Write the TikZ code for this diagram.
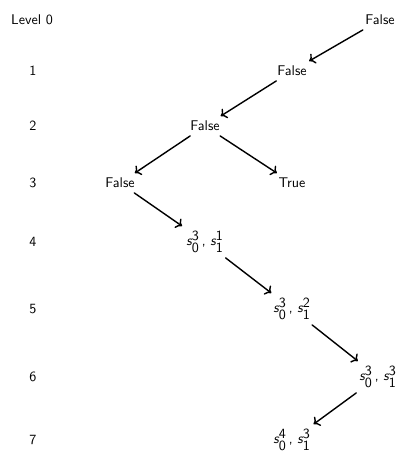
\documentclass[tikz,border=0pt]{standalone}
\usetikzlibrary{arrows.meta}
\renewcommand{\familydefault}{\sfdefault}
\newcommand{\sv}[2]{\ensuremath{\textit{s}_{\textsf{#1}}^{\textsf{#2}}}}
\tikzset{
  lvl/.style={font=\sffamily},
  st/.style={font=\sffamily},
  edge/.style={-{To[length=4pt,width=8pt]},line width=1pt}
}
\begin{document}
\begin{tikzpicture}[line cap=round,line join=round,x=0.025cm,y=-0.025cm]
		\useasboundingbox (0,0) rectangle (400,454);
		%niveaux
		\node[lvl] (l0) at (32,20) {Level 0};
		\node[lvl] (l1) at (33,71) {1};
		\node[lvl] (l2) at (33,126) {2};
		\node[lvl] (l3) at (33,183) {3};
		\node[lvl] (l4) at (33,242) {4};
		\node[lvl] (l5) at (33,309) {5};
		\node[lvl] (l6) at (33,377) {6};
		\node[lvl] (l7) at (33,440) {7};
		%etats
		\node[st] (a0) at (380,20) {False};
		\node[st] (a1) at (292,71) {False};
		\node[st] (a2) at (205,126) {False};
		\node[st] (a3) at (120,183) {False};
		\node[st] (b3) at (292,183) {True};
		\node[st] (a4) at (205,242) {\sv{0}{3}\,, \sv{1}{1}};
		\node[st] (a5) at (292,309) {\sv{0}{3}\,, \sv{1}{2}};
		\node[st] (a6) at (378,377) {\sv{0}{3}\,, \sv{1}{3}};
		\node[st] (a7) at (292,440) {\sv{0}{4}\,, \sv{1}{3}};
		%fleches
		\draw[edge] (a0)--(a1);
		\draw[edge] (a1)--(a2);
		\draw[edge] (a2)--(a3);
		\draw[edge] (a2)--(b3);
		\draw[edge] (a3)--(a4);
		\draw[edge] (a4)--(a5);
		\draw[edge] (a5)--(a6);
		\draw[edge] (a6)--(a7);
		\end{tikzpicture}
\end{document}
